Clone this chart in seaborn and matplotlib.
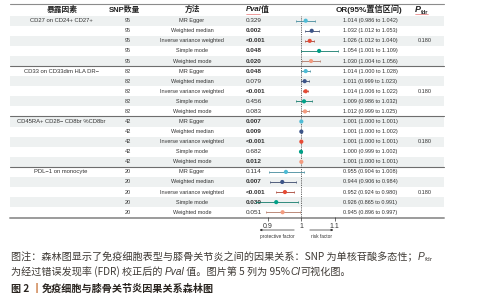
import numpy as np
import pandas as pd
import seaborn as sns
import matplotlib.pyplot as plt
from matplotlib.colors import to_rgb

# ---- data ----
exposures = ['CD27 on CD24+ CD27+', 'CD33 on CD33dim HLA DR\u2212',
             'CD45RA+ CD28\u2212 CD8br %CD8br', 'PDL\u22121 on monocyte']
snp_counts = [95, 82, 42, 20]
methods = ['MR Egger', 'Weighted median', 'Inverse variance weighted',
           'Simple mode', 'Weighted mode']
pvals = ['0.329', '0.002', '<0.001', '0.048', '0.020',
         '0.048', '0.079', '<0.001', '0.456', '0.083',
         '0.007', '0.009', '<0.001', '0.682', '0.012',
         '0.114', '0.007', '<0.001', '0.039', '0.051']
or_vals = [1.014, 1.032, 1.026, 1.054, 1.030,
           1.014, 1.011, 1.014, 1.009, 1.012,
           1.001, 1.001, 1.001, 1.000, 1.001,
           0.955, 0.944, 0.952, 0.926, 0.945]
ci_low = [0.986, 1.012, 1.012, 1.001, 1.004,
          1.000, 0.999, 1.006, 0.986, 0.999,
          1.000, 1.000, 1.000, 0.999, 1.000,
          0.904, 0.906, 0.924, 0.865, 0.896]
ci_high = [1.042, 1.053, 1.040, 1.109, 1.056,
           1.028, 1.023, 1.022, 1.032, 1.025,
           1.001, 1.002, 1.001, 1.002, 1.001,
           1.008, 0.984, 0.980, 0.991, 0.997]
p_fdr = ['0.180', '0.180', '0.180', '0.180']
x_ticks = [0.9, 1, 1.1]
x_tick_labels = ['0.9', '1', '1.1']

method_colors = {'MR Egger': '#4DBBD5', 'Weighted median': '#3C5488',
                 'Inverse variance weighted': '#E64B35',
                 'Simple mode': '#00A087', 'Weighted mode': '#F39B7F'}

n_rows = len(or_vals)
df = pd.DataFrame({
    'row': np.arange(1, n_rows + 1),
    'exposure': np.repeat(exposures, len(methods)),
    'snp': np.repeat(snp_counts, len(methods)),
    'method': methods * len(exposures),
    'pval': pvals,
    'OR': or_vals,
    'lo': ci_low,
    'hi': ci_high,
})

sns.set_style('white')
plt.rcParams['font.family'] = ['Liberation Sans', 'Noto Sans CJK SC', 'DejaVu Sans']

W, H = 484, 300
fig = plt.figure(figsize=(W / 100, H / 100), dpi=100)
bg = fig.add_axes([0, 0, 1, 1])
bg.set_xlim(0, W)
bg.set_ylim(H, 0)
bg.axis('off')

X0, X1 = 10, 444
Y_FIRST, STEP = 20.7, 10.08
TXT = '#333333'


def row_y(i):
    return Y_FIRST + i * STEP


# row shading
for i in range(n_rows):
    if i % 2 == 0:
        bg.axhspan(row_y(i) - STEP / 2, row_y(i) + STEP / 2,
                   xmin=X0 / W, xmax=X1 / W, color='#eef1f1', lw=0, zorder=0)

# rules
bg.plot([X0, X1], [4.3, 4.3], color='#8c8c8c', lw=0.8)
for g in range(1, len(exposures)):
    y = row_y(g * len(methods)) - STEP / 2
    bg.plot([X0, X1], [y, y], color='#6e6e6e', lw=0.8)
y_bot = row_y(n_rows - 1) + STEP / 2 + 0.6
bg.plot([X0, X1], [y_bot, y_bot], color='#9b9b9b', lw=1.4)

# header
hy = 9.6
hkw = dict(fontsize=5.6, fontweight='bold', color='#222222', va='center')
bg.text(62, hy, '暴露因素', ha='center', **hkw)
bg.text(124, hy, 'SNP数量', ha='center', **hkw)
bg.text(192, hy, '方法', ha='center', **hkw)
bg.text(246, hy, 'Pval', ha='left', style='italic', **hkw)
bg.text(261, hy, '值', ha='left', **hkw)
bg.text(369, hy, 'OR(95%置信区间)', ha='center', **dict(hkw, fontsize=5.9))
bg.text(415, hy, 'P', ha='left', style='italic', fontsize=6.5, fontweight='bold',
        color='#222222', va='center')
bg.text(420.5, hy + 2.5, 'fdr', ha='left', fontsize=4, fontweight='bold',
        color='#222222', va='center')
bg.plot([246, 260], [14.2, 14.2], color='#e05050', lw=0.4)
bg.plot([415, 428], [14.2, 14.2], color='#e05050', lw=0.4)

# table body
for i, r in df.iterrows():
    y = row_y(i)
    if i % len(methods) == 0:
        bg.text(61, y, r['exposure'], ha='center', va='center', fontsize=4.2, color=TXT)
    bg.text(128, y, str(r['snp']), ha='center', va='center', fontsize=4, color=TXT)
    bg.text(192, y, r['method'], ha='center', va='center', fontsize=4, color=TXT)
    p = r['pval']
    sig = p.startswith('<') or float(p) < 0.05
    bg.text(246, y, p, ha='left', va='center', fontsize=4.6, color=TXT,
            fontweight='bold' if sig else 'normal')
    bg.text(370, y, f"{r['OR']:.3f} ({r['lo']:.3f} to {r['hi']:.3f})",
            ha='center', va='center', fontsize=4, color=TXT)
    if r['method'] == 'Inverse variance weighted':
        bg.text(424.5, y, p_fdr[i // len(methods)], ha='center', va='center',
                fontsize=4, color=TXT)

# ---- forest panel ----
px_per_unit = 335.0
x_one = 301.0
xlim = (0.85, 1.15)
left_px = x_one - (1 - xlim[0]) * px_per_unit
width_px = (xlim[1] - xlim[0]) * px_per_unit
top_px = row_y(0) - STEP / 2
bot_px = row_y(n_rows - 1) + STEP / 2
ax = fig.add_axes([left_px / W, (H - bot_px) / H, width_px / W, (bot_px - top_px) / H])
ax.patch.set_alpha(0)


def darker(c, f=0.35):
    r, g, b = to_rgb(c)
    return (r * (1 - f) + 0.2 * f, g * (1 - f) + 0.2 * f, b * (1 - f) + 0.2 * f)


ax.axvline(1, color='#555555', lw=0.6, ls=(0, (1.5, 1.2)), zorder=1)
for _, r in df.iterrows():
    ax.errorbar(r['OR'], r['row'], xerr=[[r['OR'] - r['lo']], [r['hi'] - r['OR']]],
                fmt='none', ecolor=darker(method_colors[r['method']]),
                elinewidth=0.6, capsize=1.0, capthick=0.5, zorder=2)
sns.scatterplot(data=df, x='OR', y='row', hue='method', palette=method_colors,
                s=9, edgecolor='none', legend=False, ax=ax, zorder=3)

ax.set_xlim(*xlim)
ax.set_ylim(n_rows + 0.5, 0.5)
ax.set_xlabel('')
ax.set_ylabel('')
ax.set_yticks([])
ax.set_xticks(x_ticks)
ax.set_xticklabels(x_tick_labels)
ax.tick_params(axis='x', length=3, width=0.5, pad=1.2, labelsize=5, colors='#333333',
               bottom=True)
for s in ax.spines.values():
    s.set_visible(False)

arrow_y = -(230 - bot_px) / (bot_px - top_px)
lab_y = -(236.5 - bot_px) / (bot_px - top_px)
akw = dict(arrowstyle='-|>', lw=0.5, color='#333333', mutation_scale=3)
ax.annotate('', xy=(0.868, arrow_y), xytext=(0.988, arrow_y),
            xycoords=('data', 'axes fraction'), arrowprops=akw, annotation_clip=False)
ax.annotate('', xy=(1.105, arrow_y), xytext=(1.018, arrow_y),
            xycoords=('data', 'axes fraction'), arrowprops=akw, annotation_clip=False)
ax.text(0.928, lab_y, 'protective factor', transform=ax.get_xaxis_transform(),
        ha='center', va='center', fontsize=3.4, color='#333333')
ax.text(1.062, lab_y, 'risk factor', transform=ax.get_xaxis_transform(),
        ha='center', va='center', fontsize=3.4, color='#333333')

# ---- caption ----
renderer = fig.canvas.get_renderer()
CAP = '#3f3a35'
cjk = ['Noto Sans CJK SC', 'DejaVu Sans']
lat = ['Liberation Sans', 'DejaVu Sans']


def seq_text(x, y, parts, size=7.25):
    for s, kw in parts:
        kw = dict(kw)
        fs = kw.pop('fontsize', size)
        dy = kw.pop('dy', 0)
        fam = lat if kw.get('style') == 'italic' else cjk
        t = bg.text(x, y + dy, s, fontsize=fs, va='center', ha='left',
                    family=fam, **kw)
        x += t.get_window_extent(renderer=renderer).width
    return x


seq_text(11, 257, [
    ('图注：森林图显示了免疫细胞表型与膝骨关节炎之间的因果关系：SNP 为单核苷酸多态性；',
     dict(color=CAP)),
    ('P', dict(color=CAP, style='italic')),
    ('fdr', dict(color=CAP, fontsize=4.3, dy=2.5)),
])
seq_text(11, 272, [
    ('为经过错误发现率 (FDR) 校正后的 ', dict(color=CAP)),
    ('Pval', dict(color=CAP, style='italic')),
    (' 值。图片第 5 列为 95%', dict(color=CAP)),
    ('CI', dict(color=CAP, style='italic')),
    ('可视化图。', dict(color=CAP)),
])
seq_text(11, 289, [
    ('图 2 ', dict(color='#2a2520', fontweight='bold')),
    ('丨', dict(color='#c8743a', fontweight='bold')),
    ('免疫细胞与膝骨关节炎因果关系森林图', dict(color='#2a2520', fontweight='bold')),
])

fig.savefig('out.png', dpi=100)
